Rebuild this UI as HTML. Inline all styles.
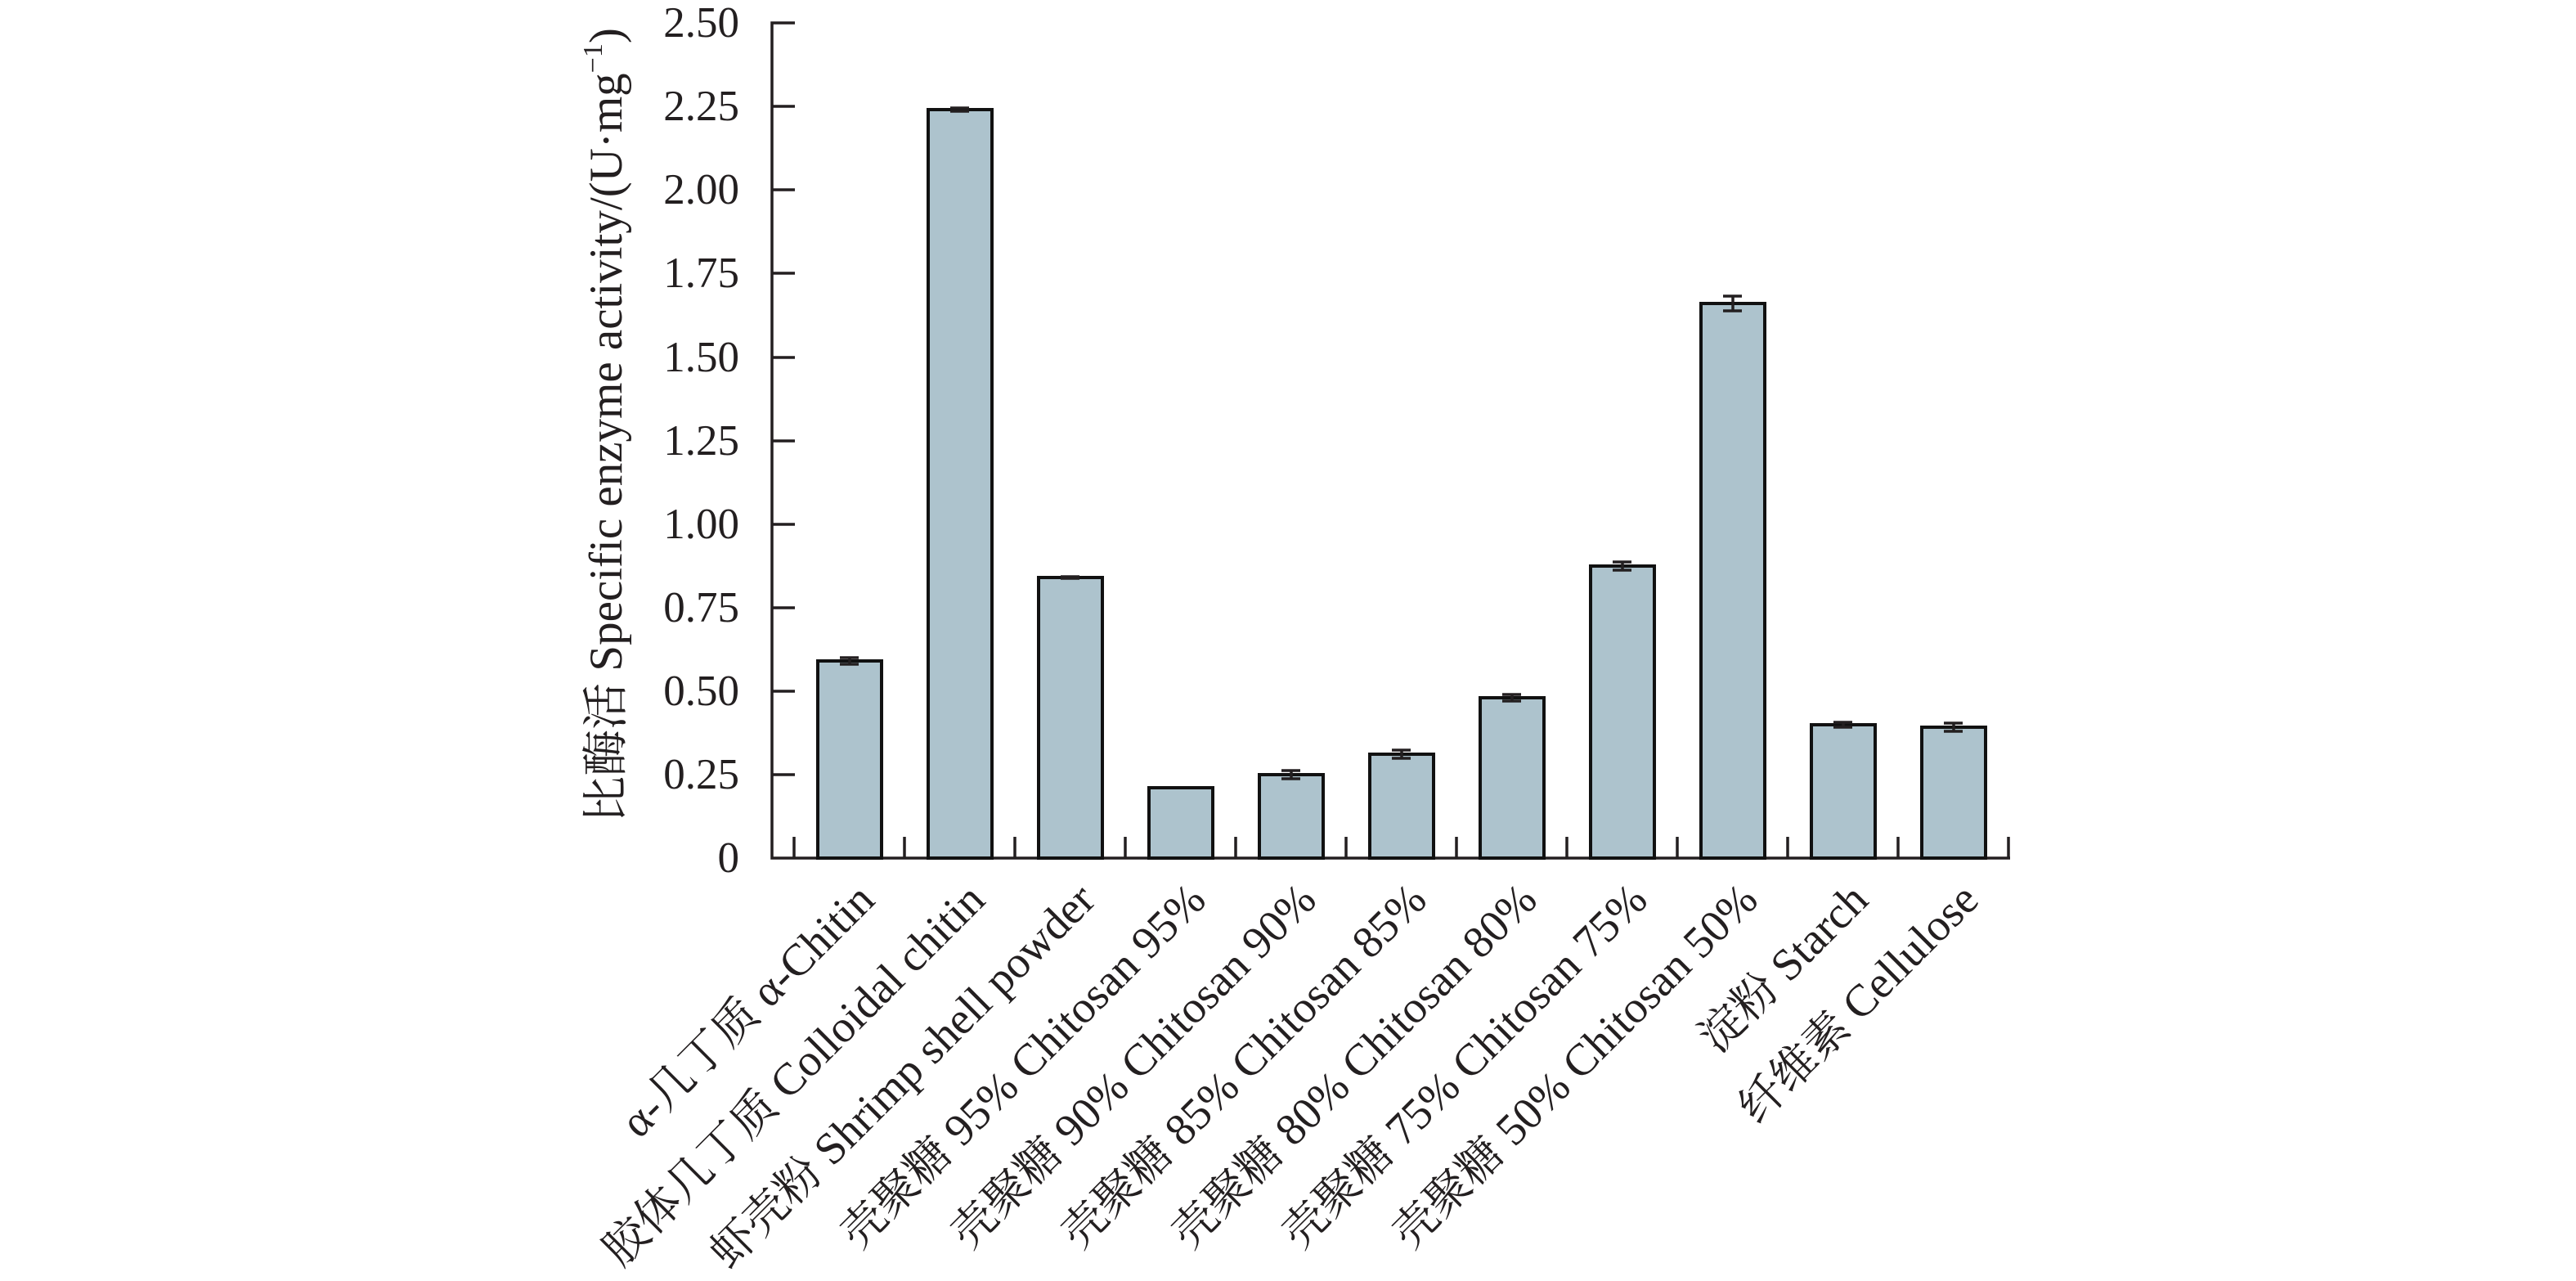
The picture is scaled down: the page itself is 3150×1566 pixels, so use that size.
<!DOCTYPE html>
<html><head><meta charset="utf-8"><style>html,body{margin:0;padding:0;background:#fff}svg{display:block}</style></head>
<body>
<svg width="3150" height="1566" viewBox="0 0 3150 1566" xmlns="http://www.w3.org/2000/svg" font-family="'Liberation Serif','Noto Serif CJK SC',serif" fill="#231f20">
<g stroke="#231f20" stroke-width="3.5" fill="none">
<polyline points="972,28 944,28 944,1049 2458,1049"/>
<line x1="944" y1="130" x2="972" y2="130"/><line x1="944" y1="232" x2="972" y2="232"/>
<line x1="944" y1="334" x2="972" y2="334"/><line x1="944" y1="437" x2="972" y2="437"/>
<line x1="944" y1="539" x2="972" y2="539"/><line x1="944" y1="641" x2="972" y2="641"/>
<line x1="944" y1="743" x2="972" y2="743"/><line x1="944" y1="845" x2="972" y2="845"/>
<line x1="944" y1="947" x2="972" y2="947"/>
<line x1="971" y1="1049" x2="971" y2="1023"/><line x1="1106" y1="1049" x2="1106" y2="1023"/>
<line x1="1241" y1="1049" x2="1241" y2="1023"/><line x1="1376" y1="1049" x2="1376" y2="1023"/>
<line x1="1511" y1="1049" x2="1511" y2="1023"/><line x1="1646" y1="1049" x2="1646" y2="1023"/>
<line x1="1781" y1="1049" x2="1781" y2="1023"/><line x1="1916" y1="1049" x2="1916" y2="1023"/>
<line x1="2051" y1="1049" x2="2051" y2="1023"/><line x1="2186" y1="1049" x2="2186" y2="1023"/>
<line x1="2321" y1="1049" x2="2321" y2="1023"/><line x1="2456" y1="1049" x2="2456" y2="1023"/>
</g>
<g font-size="53" text-anchor="end">
<text x="904" y="45">2.50</text><text x="904" y="147">2.25</text><text x="904" y="249">2.00</text>
<text x="904" y="351">1.75</text><text x="904" y="454">1.50</text><text x="904" y="556">1.25</text>
<text x="904" y="658">1.00</text><text x="904" y="760">0.75</text><text x="904" y="862">0.50</text>
<text x="904" y="964">0.25</text><text x="904" y="1066">0</text>
</g>
<text transform="translate(760,520) rotate(-90)" font-size="57" text-anchor="middle">比酶活 Specific enzyme activity/(U·mg<tspan font-size="34" dy="-24">−1</tspan><tspan dy="24">)</tspan></text>
<g fill="#adc3cd" stroke="#111" stroke-width="4">
<rect x="1000" y="808" width="78" height="241"/>
<rect x="1135" y="134" width="78" height="915"/>
<rect x="1270" y="706" width="78" height="343"/>
<rect x="1405" y="963" width="78" height="86"/>
<rect x="1540" y="947" width="78" height="102"/>
<rect x="1675" y="922" width="78" height="127"/>
<rect x="1810" y="853" width="78" height="196"/>
<rect x="1945" y="692" width="78" height="357"/>
<rect x="2080" y="371" width="78" height="678"/>
<rect x="2215" y="886" width="78" height="163"/>
<rect x="2350" y="889" width="78" height="160"/>
</g>
<g stroke="#231f20" stroke-width="3.5">
<path d="M1027,804h23M1027,812h23M1039,804v8"/>
<path d="M1162,132h23M1162,136h23"/>
<path d="M1297,705h23M1297,707h23"/>
<path d="M1567,942h23M1567,952h23M1579,942v10"/>
<path d="M1702,917h23M1702,927h23M1714,917v10"/>
<path d="M1837,849h23M1837,857h23M1849,849v8"/>
<path d="M1972,687h23M1972,697h23M1984,687v10"/>
<path d="M2107,362h23M2107,380h23M2119,362v18"/>
<path d="M2242,883h23M2242,889h23M2254,883v6"/>
<path d="M2377,884h23M2377,894h23M2389,884v10"/>
</g>
<g font-size="55" text-anchor="end">
<text transform="translate(1072,1103) rotate(-45)">α-几丁质 α-Chitin</text>
<text transform="translate(1207,1103) rotate(-45)">胶体几丁质 Colloidal chitin</text>
<text transform="translate(1342,1103) rotate(-45)">虾壳粉 Shrimp shell powder</text>
<text transform="translate(1477,1103) rotate(-45)">壳聚糖 95% Chitosan 95%</text>
<text transform="translate(1612,1103) rotate(-45)">壳聚糖 90% Chitosan 90%</text>
<text transform="translate(1747,1103) rotate(-45)">壳聚糖 85% Chitosan 85%</text>
<text transform="translate(1882,1103) rotate(-45)">壳聚糖 80% Chitosan 80%</text>
<text transform="translate(2017,1103) rotate(-45)">壳聚糖 75% Chitosan 75%</text>
<text transform="translate(2152,1103) rotate(-45)">壳聚糖 50% Chitosan 50%</text>
<text transform="translate(2287,1103) rotate(-45)">淀粉 Starch</text>
<text transform="translate(2422,1103) rotate(-45)">纤维素 Cellulose</text>
</g>
</svg>
</body></html>
